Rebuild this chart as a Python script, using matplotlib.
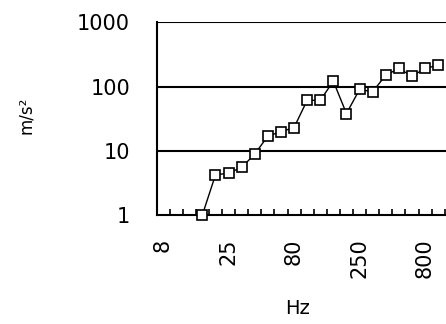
import matplotlib
matplotlib.use("Agg")
import matplotlib.pyplot as plt
import numpy as np

# === Data (1/3 octave bands) ===
bands = ["8", "10", "12.5", "16", "20", "25", "31.5", "40", "50", "63", "80",
         "100", "125", "160", "200", "250", "315", "400", "500", "630", "800", "1000"]
accel = [np.nan, np.nan, np.nan, 1.0, 4.2, 4.5, 5.5, 8.9, 16.9, 19.8, 23,
         61, 61, 121, 38, 90, 83, 150, 191, 145, 191, 215]
shown_labels = ["8", "25", "80", "250", "800"]

x = np.arange(len(bands))

fig = plt.figure(figsize=(4.46, 3.24), dpi=100)
ax = fig.add_axes([156.5 / 446, 109 / 324, 22.5 * 13.1 / 446, (215 - 22.3) / 324])

# --- Gridlines at decades ---
for v in [10, 100, 1000]:
    ax.axhline(v, color="black", linewidth=1.5, zorder=1)

ax.plot(x, accel, color="black", linewidth=1.0, marker="s", markersize=7,
        markerfacecolor="white", markeredgecolor="black", markeredgewidth=1.2,
        clip_on=False, zorder=3)

ax.set_yscale("log")
ax.set_ylim(1, 1000)
ax.set_xlim(-0.5, 22)

# y ticks
ax.set_yticks([1, 10, 100, 1000])
ax.set_yticklabels(["1", "10", "100", "1000"])
ax.yaxis.set_minor_locator(matplotlib.ticker.NullLocator())
ax.tick_params(axis="y", length=0, pad=19, labelsize=15)

# x ticks: marks between categories, labels every 5th (rotated, top aligned)
ax.set_xticks(np.arange(-0.5, len(bands) + 0.5, 1.0))
ax.set_xticklabels([])
ax.tick_params(axis="x", which="major", direction="in", length=4, width=1.2)
for b in shown_labels:
    ax.annotate(b, xy=(bands.index(b), 0), xycoords=("data", "axes fraction"),
                xytext=(0, -17), textcoords="offset points",
                rotation=90, ha="center", va="top", fontsize=15,
                annotation_clip=False)

for s in ["top", "right"]:
    ax.spines[s].set_visible(False)
ax.spines["left"].set_linewidth(1.5)
ax.spines["bottom"].set_linewidth(1.5)

fig.text(298 / 446, 1 - 309 / 324, "Hz", ha="center", va="center", fontsize=14)
fig.text(26 / 446, 1 - 115 / 324, "m/s²", ha="center", va="center", rotation=90, fontsize=12)

fig.savefig("out.png", dpi=100)
